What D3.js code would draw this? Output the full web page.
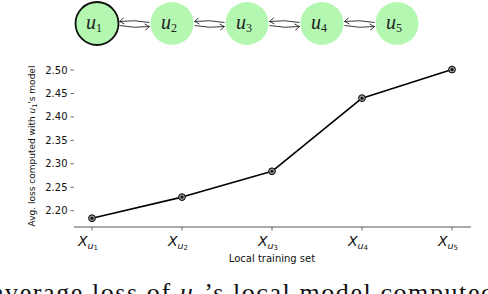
<!DOCTYPE html>
<html>
<head>
<meta charset="utf-8">
<script src="https://cdn.jsdelivr.net/npm/d3@7"></script>
<style>
body { margin: 0; background: #fff; }
svg { display: block; }
</style>
</head>
<body>
<svg id="chart" width="488" height="294"></svg>
<script>
// data
var nodes = ["1", "2", "3", "4", "5"];
var lossValues = [2.184, 2.229, 2.284, 2.44, 2.501];
var yTicks = [2.20, 2.25, 2.30, 2.35, 2.40, 2.45, 2.50];

var svg = d3.select("#chart");

// ---- node graph on top ----
var nx = d3.scalePoint().domain(nodes).range([97, 397]);
var ny = 23.5, nr = 21.5;

var defs = svg.append("defs");
defs.append("marker")
  .attr("id", "hook")
  .attr("viewBox", "-6 -5 8 10")
  .attr("markerWidth", 8)
  .attr("markerHeight", 10)
  .attr("markerUnits", "userSpaceOnUse")
  .attr("orient", "auto")
  .attr("refX", 0).attr("refY", 0)
.append("path")
  .attr("d", "M-4.5,-3.2 Q-1.5,-0.6 0,0 Q-1.5,0.6 -4.5,3.2")
  .attr("fill", "none")
  .attr("stroke", "#222")
  .attr("stroke-width", 0.9);

var g0 = svg.append("g");
nodes.slice(0, -1).forEach(function(d, i) {
  var a = nx(d) + nr + 1, b = nx(nodes[i + 1]) - nr - 1;
  // right to left (upper)
  g0.append("path")
    .attr("d", "M" + b + "," + (ny - 1) + " Q" + ((a + b) / 2) + "," + (ny - 4) + " " + a + "," + (ny - 2))
    .attr("fill", "none").attr("stroke", "#222").attr("stroke-width", 0.9)
    .attr("marker-end", "url(#hook)");
  // left to right (lower)
  g0.append("path")
    .attr("d", "M" + a + "," + (ny + 2) + " Q" + ((a + b) / 2) + "," + (ny + 5) + " " + b + "," + (ny + 3))
    .attr("fill", "none").attr("stroke", "#222").attr("stroke-width", 0.9)
    .attr("marker-end", "url(#hook)");
});

g0.selectAll("circle")
  .data(nodes)
  .enter().append("circle")
  .attr("cx", function(d) { return nx(d); })
  .attr("cy", ny)
  .attr("r", nr)
  .attr("fill", "#b3f7b0")
  .attr("stroke", function(d, i) { return i == 0 ? "#111" : "none"; })
  .attr("stroke-width", 1.8);

var nl = g0.selectAll("text.node")
  .data(nodes)
  .enter().append("text")
  .attr("class", "node")
  .attr("x", function(d) { return nx(d) - 3; })
  .attr("y", ny + 5)
  .attr("text-anchor", "middle")
  .attr("font-family", "'Liberation Serif', serif")
  .attr("font-style", "italic")
  .attr("font-size", 20)
  .attr("fill", "#222");
nl.append("tspan").text("u");
nl.append("tspan").attr("font-size", 12).attr("font-style", "normal").attr("dy", 3).text(function(d) { return d; });

// ---- line chart ----
var x = d3.scalePoint().domain(nodes).range([92, 452]);
var y = d3.scaleLinear().domain([2.20, 2.50]).range([210.7, 70]);
var axisY = 227;

var g = svg.append("g");

// bottom spine + ticks
g.append("line")
  .attr("x1", 74).attr("x2", 471)
  .attr("y1", axisY).attr("y2", axisY)
  .attr("stroke", "#444").attr("stroke-width", 0.9);

g.selectAll("line.xt")
  .data(nodes)
  .enter().append("line")
  .attr("class", "xt")
  .attr("x1", function(d) { return x(d); })
  .attr("x2", function(d) { return x(d); })
  .attr("y1", axisY).attr("y2", axisY + 3.5)
  .attr("stroke", "#444").attr("stroke-width", 0.8);

var xl = g.selectAll("text.xl")
  .data(nodes)
  .enter().append("text")
  .attr("class", "xl")
  .attr("x", function(d) { return x(d) - 4; })
  .attr("y", 246)
  .attr("text-anchor", "middle")
  .attr("font-family", "'DejaVu Sans', sans-serif")
  .attr("fill", "#111");
xl.append("tspan").attr("font-size", 14).attr("font-style", "italic").text("X");
xl.append("tspan").attr("font-size", 9.5).attr("font-style", "italic").attr("dy", 2.5).text("u");
xl.append("tspan").attr("font-size", 7).attr("dy", 1.5).text(function(d) { return d; });

g.append("text")
  .attr("x", 272).attr("y", 262)
  .attr("text-anchor", "middle")
  .attr("font-family", "'DejaVu Sans', sans-serif")
  .attr("font-size", 10)
  .attr("fill", "#111")
  .text("Local training set");

// y ticks (no left spine)
g.selectAll("line.yt")
  .data(yTicks)
  .enter().append("line")
  .attr("class", "yt")
  .attr("x1", 70.5).attr("x2", 74)
  .attr("y1", function(d) { return y(d); })
  .attr("y2", function(d) { return y(d); })
  .attr("stroke", "#444").attr("stroke-width", 0.8);

g.selectAll("text.yl")
  .data(yTicks)
  .enter().append("text")
  .attr("class", "yl")
  .attr("x", 67.5)
  .attr("y", function(d) { return y(d); })
  .attr("dy", "0.35em")
  .attr("text-anchor", "end")
  .attr("font-family", "'DejaVu Sans', sans-serif")
  .attr("font-size", 10)
  .attr("fill", "#111")
  .text(function(d) { return d3.format(".2f")(d); });

var yt = g.append("text")
  .attr("transform", "translate(35,146) rotate(-90)")
  .attr("text-anchor", "middle")
  .attr("font-family", "'DejaVu Sans', sans-serif")
  .attr("font-size", 9)
  .attr("fill", "#111");
yt.append("tspan").text("Avg. loss computed with ");
yt.append("tspan").attr("font-style", "italic").text("u");
yt.append("tspan").attr("font-size", 6.5).attr("dy", 2).text("1");
yt.append("tspan").attr("dy", -2).text("'s model");

// the series
var line = d3.line()
  .x(function(d, i) { return x(nodes[i]); })
  .y(function(d) { return y(d); });

g.append("path")
  .datum(lossValues)
  .attr("fill", "none")
  .attr("stroke", "#000")
  .attr("stroke-width", 1.6)
  .attr("stroke-linejoin", "round")
  .attr("d", line);

var pts = g.selectAll("g.pt")
  .data(lossValues)
  .enter().append("g")
  .attr("class", "pt")
  .attr("transform", function(d, i) { return "translate(" + x(nodes[i]) + "," + y(d) + ")"; });
pts.append("circle").attr("r", 3.4).attr("fill", "#999").attr("stroke", "#000").attr("stroke-width", 1);
pts.append("circle").attr("r", 1.5).attr("fill", "#111");

// caption from the page underneath, cut by the bottom edge like in the source
var cap = svg.append("text")
  .attr("x", -8).attr("y", 301)
  .attr("font-family", "'Liberation Serif', serif")
  .attr("font-size", 26)
  .attr("fill", "#111")
  .attr("textLength", 502)
  .attr("lengthAdjust", "spacing");
cap.append("tspan").text("average loss of ");
cap.append("tspan").attr("font-style", "italic").text("u");
cap.append("tspan").attr("font-size", 17).attr("dy", 4).text("1");
cap.append("tspan").attr("dy", -4).text("\u2019s local model computed");
</script>
</body>
</html>
